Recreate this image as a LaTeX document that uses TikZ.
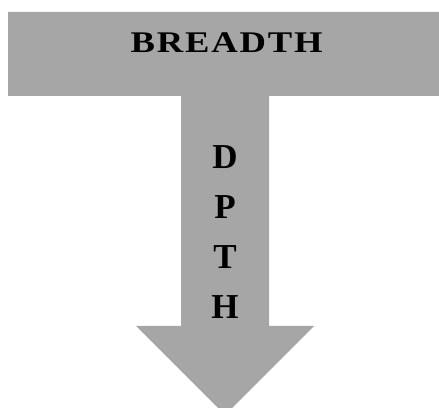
\documentclass[tikz,border=0pt]{standalone}
\usepackage{fontspec}
\usepackage{graphicx}
\setmainfont{Liberation Serif}
\begin{document}
\begin{tikzpicture}[x=1pt,y=1pt,
  shapefill/.style={fill=gray65,draw=none},
  lbl/.style={inner sep=0pt,anchor=base,text=black,font=\bfseries\fontsize{35}{35}\selectfont}]
\definecolor{gray65}{HTML}{A6A6A6}
\useasboundingbox (0,0) rectangle (439,407);
\clip (0,0) rectangle (439,407);
\fill[shapefill] (8,395) -- (445,395) -- (445,311) -- (269,311) -- (269,81)
  -- (314,81) -- (225,-8) -- (136,81) -- (181,81) -- (181,311) -- (8,311) -- cycle;
\node[inner sep=0pt,anchor=base,font=\bfseries\fontsize{30}{30}\selectfont\addfontfeature{LetterSpace=5}] (breadth) at (226.5,354) {\scalebox{1.22}[1]{BREADTH}};
\node[lbl] (d) at (225,238) {D};
\node[lbl] (p) at (225,188) {P};
\node[lbl] (t) at (225,138) {T};
\node[lbl] (h) at (225,88) {H};
\end{tikzpicture}
\end{document}
